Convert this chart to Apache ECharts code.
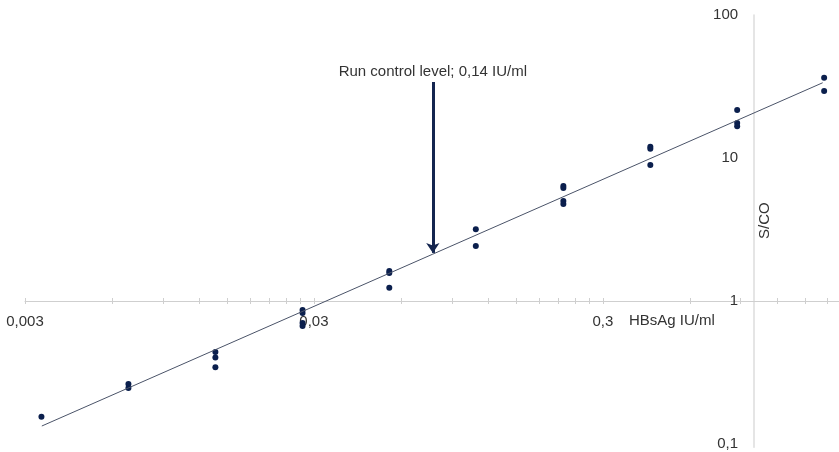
<!DOCTYPE html>
<html>
<head>
<meta charset="utf-8">
<style>
html,body{margin:0;padding:0;background:#fff;}
#chart{width:839px;height:452px;}
</style>
<script src="https://cdn.jsdelivr.net/npm/echarts@6/dist/echarts.min.js"></script>
</head>
<body>
<div id="chart"></div>
<script>
// ---- data ----
const concentration = [0.00342, 0.00684, 0.01368, 0.0274, 0.0547, 0.109, 0.219, 0.438, 0.875, 1.75];
const sco = [
  [0.155],
  [0.263, 0.246],
  [0.440, 0.402, 0.344],
  [0.865, 0.824, 0.702, 0.669],
  [1.62, 1.57, 1.24],
  [3.17, 2.42],
  [6.37, 6.17, 5.00, 4.77],
  [12.0, 11.6, 8.93],
  [21.7, 17.6, 16.7],
  [36.4, 29.4]
];
const fitX = [0.00343, 1.73];
const fitY = [0.1336, 33.6];
const controlX = 0.0774;
const arrowTopY = 34.0;
const arrowTipY = 2.17;
const controlLabel = 'Run control level; 0,14 IU/ml';
const xTickLabels = [0.003, 0.03, 0.3];
const xTicks = [0.003,0.006,0.009,0.012,0.015,0.018,0.021,0.024,0.027,
                0.03,0.06,0.09,0.12,0.15,0.18,0.21,0.24,0.27,
                0.3,0.6,0.9,1.2,1.5,1.8];
const yTickLabels = [0.1, 1, 10, 100];
const xName = 'HBsAg IU/ml';
const yName = 'S/CO';

// ---- build ----
const points = [];
concentration.forEach((c, i) => sco[i].forEach(v => points.push([c, v])));
const fitLine = fitX.map((x, i) => [x, fitY[i]]);

const FONT = '"Liberation Sans", Arial, sans-serif';
const FS = 15;
const fmt = v => String(v).replace('.', ',');
const axisColor = '#cfcfcf';

const commonX = {
  type: 'log', logBase: 10, min: 0.003, max: 1.97,
  position: 'bottom', offset: -146.2,
  splitLine: { show: false }, minorTick: { show: false }
};

const chart = echarts.init(document.getElementById('chart'));
chart.setOption({
  animation: false,
  grid: { left: 25, right: 0, top: 15, bottom: 4.8, containLabel: false },
  xAxis: [
    Object.assign({}, commonX, {
      axisLine: { show: true, onZero: false, lineStyle: { color: axisColor, width: 1 } },
      axisTick: { show: true, length: 3, inside: false, customValues: xTicks, lineStyle: { color: axisColor } },
      axisLabel: { show: true, customValues: xTickLabels, formatter: fmt, margin: 13,
                   color: '#333', fontSize: FS, fontFamily: FONT }
    }),
    Object.assign({}, commonX, {
      axisLine: { show: false, onZero: false },
      axisTick: { show: true, length: 3, inside: true, customValues: xTicks, lineStyle: { color: axisColor } },
      axisLabel: { show: false }
    })
  ],
  yAxis: {
    type: 'log', logBase: 10, min: 0.095, max: 100,
    position: 'left', offset: -729.1,
    axisLine: { show: true, onZero: false, lineStyle: { color: '#dcdcdc', width: 1.5 } },
    axisTick: { show: false },
    splitLine: { show: false },
    axisLabel: { show: true, customValues: yTickLabels, formatter: fmt, margin: 16,
                 color: '#333', fontSize: FS, fontFamily: FONT }
  },
  graphic: [
    { type: 'text', left: 629, top: 313,
      style: { text: xName, fill: '#333', fontSize: FS, fontFamily: FONT } },
    { type: 'text', x: 757, y: 239, rotation: Math.PI / 2,
      style: { text: yName, fill: '#333', fontSize: FS, fontFamily: FONT } }
  ],
  series: [
    {
      type: 'line', data: fitLine, symbol: 'none', silent: true,
      lineStyle: { color: '#4a5368', width: 1 },
      markLine: {
        silent: true, animation: false,
        symbol: ['none', 'arrow'], symbolSize: 10,
        lineStyle: { color: '#14254f', width: 3, type: 'solid' },
        label: { show: true, position: 'start', formatter: controlLabel,
                 color: '#333', fontSize: FS, fontFamily: FONT, distance: 3 },
        data: [[ { coord: [controlX, arrowTopY] }, { coord: [controlX, arrowTipY] } ]]
      }
    },
    {
      type: 'scatter', data: points, symbolSize: 6,
      itemStyle: { color: '#0b1f4d', opacity: 1 }
    }
  ]
});
</script>
</body>
</html>
